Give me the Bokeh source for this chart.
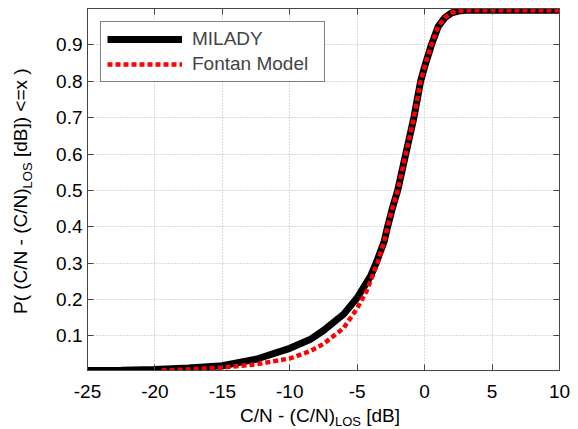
from bokeh.plotting import figure
from bokeh.models import Range1d, LinearAxis, FixedTicker, CustomJSTickFormatter, Div
from bokeh.layouts import row, column
from bokeh.embed import file_html
from bokeh.resources import INLINE

# ---- data ----
milady_x = [-25, -22.5, -20, -17.5, -15, -12.5, -10, -8.5, -7.5, -6, -5, -4.5, -4, -3.6,
            -3, -2.75, -2.4, -2, -1.4, -0.8, -0.3, 0.0, 0.5, 1.0, 1.5, 2.0, 2.5, 3, 10]
milady_y = [0.005, 0.006, 0.008, 0.012, 0.018, 0.036, 0.066, 0.09, 0.115, 0.16, 0.205, 0.235,
            0.265, 0.3, 0.36, 0.4, 0.45, 0.5, 0.6, 0.7, 0.8, 0.84, 0.9, 0.95, 0.975, 0.988,
            0.993, 0.995, 0.995]
fontan_x = [-19.5, -17.5, -15, -12.5, -10, -8.5, -7.5, -6, -5, -4.3, -3.5, -3, -2.75, -2.4,
            -2, -1.4, -0.8, -0.3, 0.0, 0.5, 1.0, 1.5, 2.0, 2.5, 3, 10]
fontan_y = [0.005, 0.008, 0.013, 0.022, 0.038, 0.058, 0.078, 0.122, 0.176, 0.224, 0.3, 0.36,
            0.4, 0.45, 0.5, 0.6, 0.7, 0.8, 0.84, 0.9, 0.95, 0.975, 0.988, 0.993, 0.995, 0.995]
x_ticks = [-25, -20, -15, -10, -5, 0, 5, 10]
y_ticks = [0.1, 0.2, 0.3, 0.4, 0.5, 0.6, 0.7, 0.8, 0.9]
x_title = ("C/N - (C/N)", "LOS", " [dB]")
y_title = ("P( (C/N - (C/N)", "LOS", " [dB]) &lt;=x )")

FONT = "Liberation Sans"
X0, X1 = -25, 10
Y0, Y1 = 0.005, 1.0
YLAB_W = 40
XLAB_H = 24
W, H = 578 - YLAB_W, 429 - XLAB_H
BL, BR, BT, BB = 87 - YLAB_W, 19, 8, 35

p = figure(width=W, height=H, x_range=Range1d(X0, X1), y_range=Range1d(Y0, Y1),
           output_backend="svg", toolbar_location=None,
           min_border_left=BL, min_border_right=BR, min_border_top=BT, min_border_bottom=BB)
p.background_fill_color = "white"
p.border_fill_color = "white"
p.outline_line_color = "#444444"
p.outline_line_width = 1

def style_axis(ax, ticks, labels=True):
    ax.ticker = FixedTicker(ticks=ticks)
    ax.major_tick_in = 6
    ax.major_tick_out = 0
    ax.minor_tick_line_color = None
    ax.axis_line_color = "#444444"
    ax.major_tick_line_color = "#444444"
    ax.major_label_text_font = FONT
    ax.major_label_text_font_size = "19px"
    ax.major_label_text_color = "black"
    if labels:
        ax.formatter = CustomJSTickFormatter(code="return String(tick)")
    else:
        ax.formatter = CustomJSTickFormatter(code="return ''")
        ax.major_label_standoff = 0

style_axis(p.xaxis[0], x_ticks)
style_axis(p.yaxis[0], y_ticks)
p.xaxis[0].major_label_standoff = 14
p.yaxis[0].major_label_standoff = 5

top_ax = LinearAxis()
style_axis(top_ax, x_ticks, labels=False)
p.add_layout(top_ax, "above")
right_ax = LinearAxis()
style_axis(right_ax, y_ticks, labels=False)
p.add_layout(right_ax, "right")

p.xgrid.ticker = FixedTicker(ticks=x_ticks)
p.ygrid.ticker = FixedTicker(ticks=y_ticks)
for g in (p.xgrid[0], p.ygrid[0]):
    g.grid_line_color = "#b4b4b4"
    g.grid_line_dash = "1 2"
    g.grid_line_width = 1

p.line(milady_x, milady_y, line_color="black", line_width=7, legend_label="MILADY")
p.line(fontan_x, fontan_y, line_color="#ff0000", line_width=4.5, line_dash="5 3",
       line_cap="butt", legend_label="Fontan Model")

lg = p.legend[0]
lg.location = "top_left"
lg.margin = 13
lg.padding = 6
lg.spacing = 3
lg.glyph_width = 75
lg.glyph_height = 18
lg.label_height = 18
lg.label_width = 126
lg.label_standoff = 10
lg.label_text_font = FONT
lg.label_text_font_size = "19px"
lg.border_line_color = "black"
lg.border_line_width = 1
lg.background_fill_alpha = 1

# axis titles (with subscripts) as HTML text beside / below the figure
def title_html(parts, transform, sub_shift):
    main, sub, rest = parts
    return (f'<div style="font-family:\'{FONT}\';font-size:19px;line-height:1;color:black;'
            f'white-space:nowrap;display:inline-block;transform-origin:0 0;transform:{transform};">'
            f'{main}<span style="font-size:13px;vertical-align:-{sub_shift}px;">{sub}</span>{rest}</div>')

ydiv = Div(text=title_html(y_title, "translate(11px, 314px) rotate(-90deg)", 5),
           width=YLAB_W, height=H, margin=0)
xdiv = Div(text=title_html(x_title, "translate(240px, 1px)", 4),
           width=578, height=XLAB_H, margin=0)

layout = column(row(ydiv, p, spacing=0), xdiv, spacing=0)

open("out.html", "w").write(file_html(layout, INLINE))
